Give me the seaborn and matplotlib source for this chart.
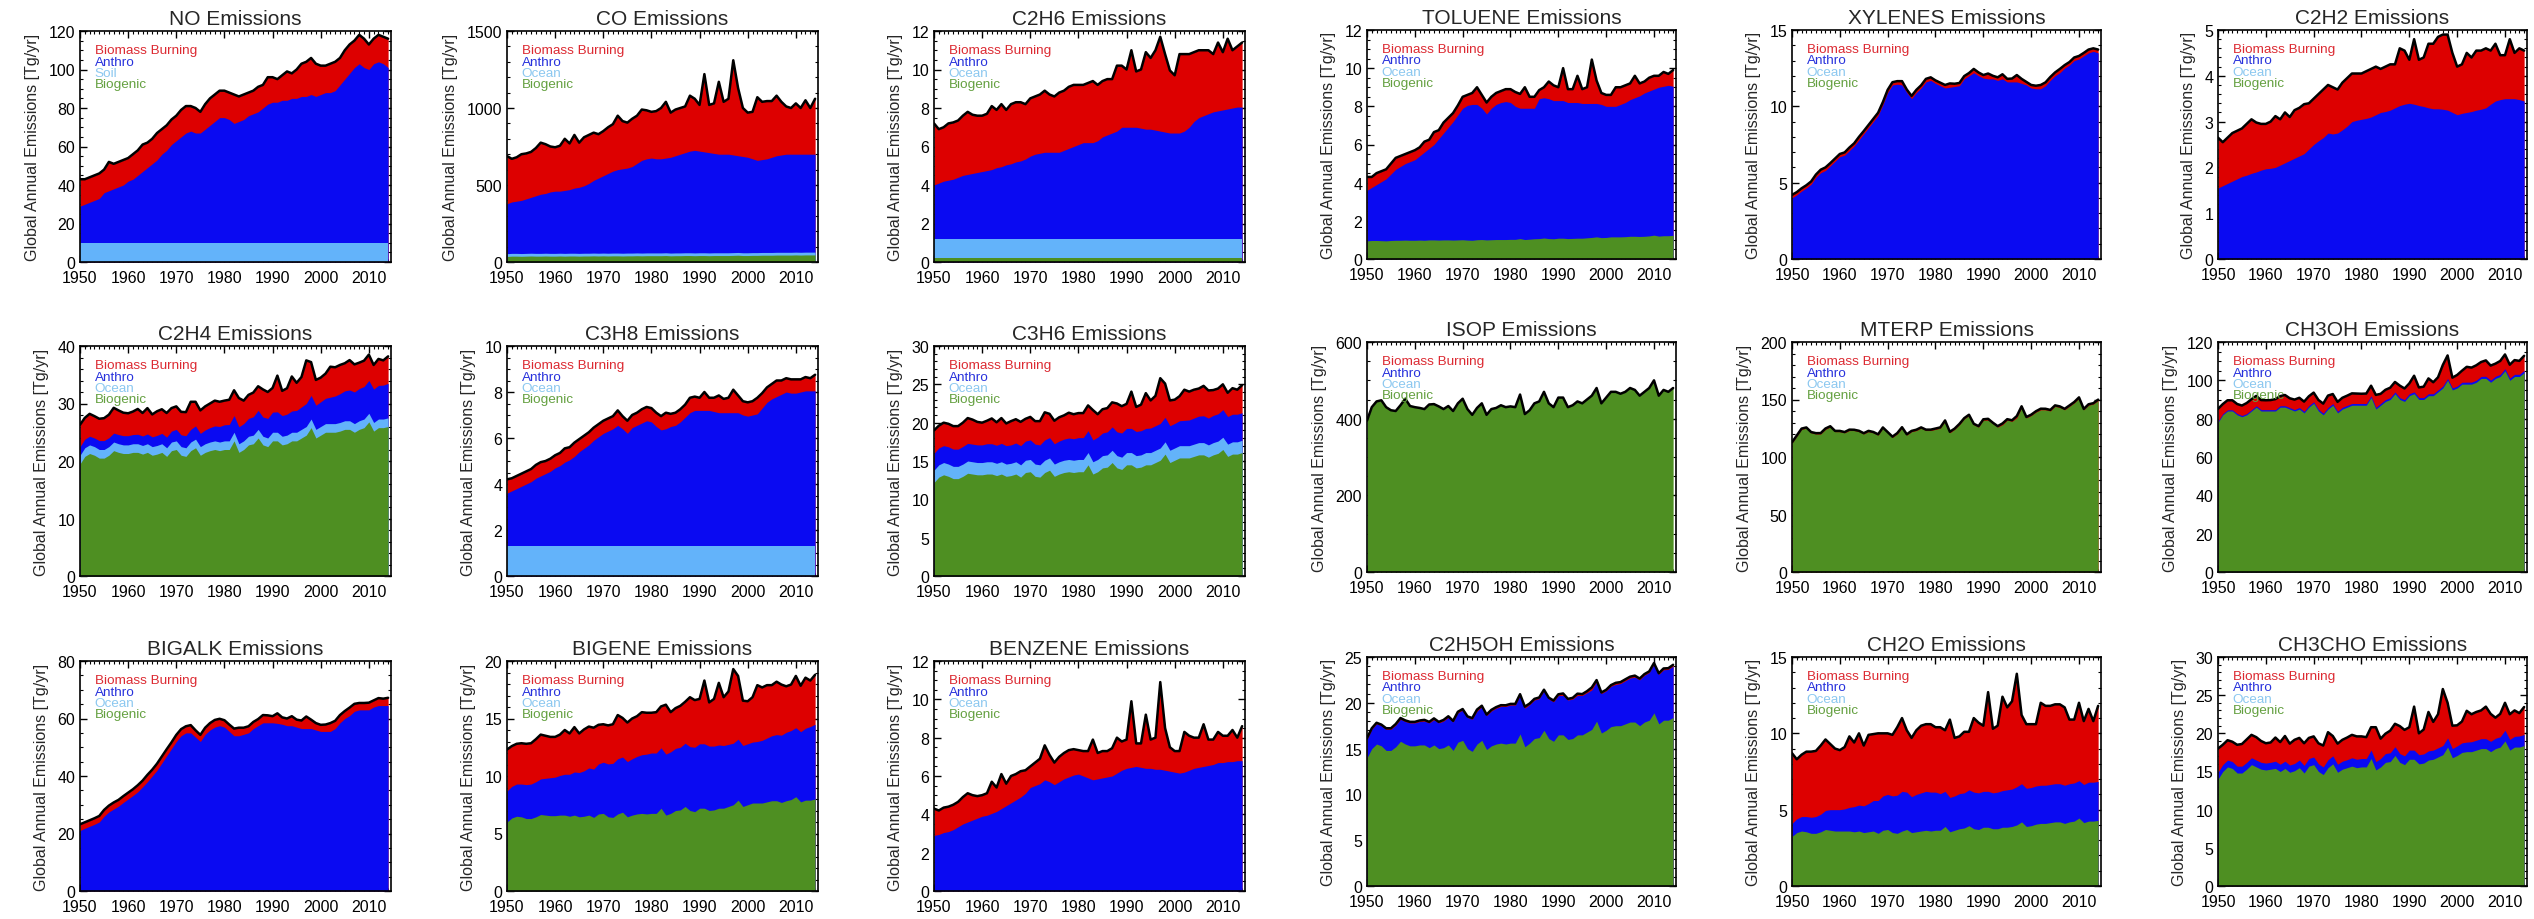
import numpy as np
import matplotlib
matplotlib.use("Agg")
import matplotlib.pyplot as plt
from matplotlib import font_manager as fm
from matplotlib.font_manager import FontProperties
from matplotlib.ticker import MultipleLocator, AutoMinorLocator
import seaborn as sns

years = np.arange(1950, 2015)

# ---------------- NO ----------------
no_soil = [10.0, 10.0, 10.0, 10.0, 10.0, 10.0, 10.0, 10.0, 10.0, 10.0,
           10.0, 10.0, 10.0, 10.0, 10.0, 10.0, 10.0, 10.0, 10.0, 10.0,
           10.0, 10.0, 10.0, 10.0, 10.0, 10.0, 10.0, 10.0, 10.0, 10.0,
           10.0, 10.0, 10.0, 10.0, 10.0, 10.0, 10.0, 10.0, 10.0, 10.0,
           10.0, 10.0, 10.0, 10.0, 10.0, 10.0, 10.0, 10.0, 10.0, 10.0,
           10.0, 10.0, 10.0, 10.0, 10.0, 10.0, 10.0, 10.0, 10.0, 10.0,
           10.0, 10.0, 10.0, 10.0, 10.0]
no_anthro = [19, 20, 21, 22, 23, 26, 27, 28, 29, 30,
             32, 33, 35, 37, 39, 41, 43, 46, 48, 51,
             53, 55, 57, 58, 57, 57, 59, 61, 63, 65,
             65, 64, 62, 63, 64, 66, 67, 68, 70, 72,
             73, 73, 74, 74, 75, 75, 76, 76, 77, 76,
             77, 78, 78, 79, 82, 85, 88, 91, 93, 91,
             90, 93, 94, 93, 91]
no_bb = [14, 13, 13, 13, 13, 12, 15, 13, 13, 13,
         12, 13, 13, 14, 13, 13, 14, 13, 13, 13,
         13, 14, 14, 13, 13, 11, 13, 14, 14, 14,
         14, 14, 15, 13, 13, 12, 12, 13, 12, 14,
         13, 12, 13, 15, 13, 15, 17, 18, 19, 17,
         15, 14, 15, 15, 14, 15, 15, 14, 15, 15,
         13, 13, 14, 14, 15]

# ---------------- CO ----------------
co_bio = [36, 38, 38, 37, 38, 39, 38, 38, 39, 38,
          38, 39, 38, 39, 39, 38, 39, 39, 40, 39,
          40, 39, 40, 40, 39, 40, 40, 41, 40, 41,
          41, 41, 41, 42, 40, 41, 41, 42, 42, 41,
          42, 42, 41, 42, 42, 42, 42, 43, 44, 42,
          42, 43, 43, 44, 44, 44, 45, 45, 45, 45,
          46, 45, 46, 46, 46]
co_ocean = [18, 18, 18, 18, 18, 18, 18, 18, 18, 18,
            18, 18, 18, 18, 18, 18, 18, 18, 18, 18,
            18, 18, 18, 18, 18, 18, 18, 18, 18, 18,
            18, 18, 18, 18, 18, 18, 18, 18, 18, 18,
            18, 18, 18, 18, 18, 18, 18, 18, 18, 18,
            18, 18, 18, 18, 18, 18, 18, 18, 18, 18,
            18, 18, 18, 18, 18]
co_anthro = [324, 334, 339, 345, 354, 363, 374, 384, 388, 399,
             404, 403, 409, 413, 423, 429, 438, 453, 472, 488,
             502, 518, 532, 542, 548, 552, 562, 581, 602, 611,
             616, 611, 611, 615, 622, 631, 641, 650, 660, 666,
             660, 655, 651, 645, 640, 640, 640, 634, 628, 625,
             620, 609, 599, 603, 608, 618, 627, 632, 637, 637,
             636, 637, 636, 636, 636]
co_bb = [310, 280, 285, 300, 295, 295, 310, 335, 320, 295,
         285, 295, 335, 300, 345, 290, 315, 315, 310, 285,
         290, 300, 305, 350, 310, 295, 310, 310, 330, 315,
         300, 310, 330, 365, 290, 300, 300, 300, 360, 335,
         300, 505, 310, 325, 470, 340, 360, 615, 440, 315,
         290, 305, 410, 375, 375, 365, 390, 345, 310, 300,
         330, 300, 350, 300, 360]

# ---------------- C2H6 ----------------
c2h6_bio = [0.2, 0.2, 0.2, 0.2, 0.2, 0.2, 0.2, 0.2, 0.2, 0.2,
            0.2, 0.2, 0.2, 0.2, 0.2, 0.2, 0.2, 0.2, 0.2, 0.2,
            0.2, 0.2, 0.2, 0.2, 0.2, 0.2, 0.2, 0.2, 0.2, 0.2,
            0.2, 0.2, 0.2, 0.2, 0.2, 0.2, 0.2, 0.2, 0.2, 0.2,
            0.2, 0.2, 0.2, 0.2, 0.2, 0.2, 0.2, 0.2, 0.2, 0.2,
            0.2, 0.2, 0.2, 0.2, 0.2, 0.2, 0.2, 0.2, 0.2, 0.2,
            0.2, 0.2, 0.2, 0.2, 0.2]
c2h6_ocean = [1.0, 1.0, 1.0, 1.0, 1.0, 1.0, 1.0, 1.0, 1.0, 1.0,
              1.0, 1.0, 1.0, 1.0, 1.0, 1.0, 1.0, 1.0, 1.0, 1.0,
              1.0, 1.0, 1.0, 1.0, 1.0, 1.0, 1.0, 1.0, 1.0, 1.0,
              1.0, 1.0, 1.0, 1.0, 1.0, 1.0, 1.0, 1.0, 1.0, 1.0,
              1.0, 1.0, 1.0, 1.0, 1.0, 1.0, 1.0, 1.0, 1.0, 1.0,
              1.0, 1.0, 1.0, 1.0, 1.0, 1.0, 1.0, 1.0, 1.0, 1.0,
              1.0, 1.0, 1.0, 1.0, 1.0]
c2h6_anthro = [2.8, 2.9, 3.0, 3.05, 3.1, 3.2, 3.3, 3.35, 3.4, 3.45,
               3.5, 3.55, 3.6, 3.7, 3.75, 3.85, 3.9, 4.0, 4.05, 4.15,
               4.3, 4.4, 4.45, 4.5, 4.5, 4.5, 4.5, 4.6, 4.7, 4.8,
               4.9, 5.0, 5.0, 5.0, 5.1, 5.3, 5.4, 5.5, 5.6, 5.8,
               5.8, 5.8, 5.8, 5.75, 5.7, 5.7, 5.65, 5.6, 5.55, 5.5,
               5.5, 5.5, 5.6, 5.8, 6.1, 6.3, 6.4, 6.5, 6.6, 6.65,
               6.7, 6.75, 6.8, 6.85, 6.85]
c2h6_bb = [3.2, 2.8, 2.8, 2.95, 2.95, 2.95, 3.1, 3.25, 3.05, 2.95,
           2.9, 2.95, 3.3, 3.0, 3.25, 2.85, 3.1, 3.1, 3.05, 2.85,
           3.0, 3.0, 3.05, 3.2, 3.0, 2.9, 3.1, 3.1, 3.2, 3.2,
           3.1, 3.0, 3.1, 3.2, 2.9, 2.9, 2.9, 2.8, 3.4, 3.2,
           3.0, 4.0, 2.9, 3.05, 4.0, 3.7, 4.15, 4.9, 4.05, 3.25,
           3.0, 4.1, 4.0, 3.8, 3.6, 3.5, 3.4, 3.3, 3.0, 3.55,
           3.0, 3.65, 3.0, 3.15, 3.35]

# ---------------- TOLUENE ----------------
toluene_bio = [0.95, 0.97, 0.97, 0.96, 0.95, 0.97, 0.98, 0.98, 0.99, 0.98,
               0.98, 0.99, 0.98, 1.00, 1.00, 0.99, 1.00, 1.00, 0.99, 1.00,
               1.01, 0.99, 0.98, 1.01, 1.02, 1.00, 1.01, 1.02, 1.02, 1.02,
               1.03, 1.03, 1.07, 1.02, 1.04, 1.06, 1.07, 1.10, 1.07, 1.06,
               1.09, 1.09, 1.07, 1.08, 1.09, 1.09, 1.11, 1.13, 1.16, 1.12,
               1.13, 1.16, 1.16, 1.16, 1.17, 1.19, 1.19, 1.18, 1.19, 1.21,
               1.25, 1.20, 1.22, 1.22, 1.24]
toluene_anthro = [2.65, 2.78, 2.93, 3.09, 3.25, 3.48, 3.72, 3.87, 4.01, 4.12,
                  4.22, 4.41, 4.62, 4.80, 5.00, 5.31, 5.60, 5.90, 6.21, 6.55,
                  6.89, 7.06, 7.12, 7.09, 6.88, 6.60, 6.89, 7.08, 7.18, 7.23,
                  7.17, 6.97, 6.83, 6.88, 6.86, 6.84, 7.33, 7.35, 7.33, 7.24,
                  7.21, 7.21, 7.13, 7.12, 7.11, 7.06, 7.04, 7.02, 6.99, 6.98,
                  6.87, 6.84, 6.84, 6.94, 7.03, 7.16, 7.26, 7.37, 7.51, 7.59,
                  7.65, 7.80, 7.83, 7.88, 7.81]
toluene_bb = [0.70, 0.55, 0.60, 0.55, 0.50, 0.55, 0.60, 0.55, 0.50, 0.50,
              0.50, 0.45, 0.55, 0.45, 0.65, 0.45, 0.55, 0.50, 0.45, 0.50,
              0.60, 0.55, 0.60, 0.90, 0.70, 0.60, 0.60, 0.60, 0.60, 0.65,
              0.70, 0.75, 0.75, 1.10, 0.60, 0.60, 0.45, 0.55, 0.90, 0.80,
              0.70, 1.70, 0.70, 0.70, 1.40, 0.75, 0.85, 2.30, 1.20, 0.60,
              0.60, 0.60, 1.00, 0.90, 0.90, 0.85, 1.15, 0.65, 0.60, 0.70,
              0.70, 0.60, 0.75, 0.60, 0.85]

# ---------------- XYLENES ----------------
xylenes_anthro = [4.00, 4.20, 4.45, 4.65, 4.90, 5.35, 5.65, 5.80, 6.10, 6.40,
                  6.70, 6.80, 7.10, 7.40, 7.80, 8.20, 8.60, 9.00, 9.40, 10.10,
                  10.90, 11.40, 11.45, 11.40, 10.90, 10.50, 10.90, 11.20, 11.60, 11.70,
                  11.50, 11.35, 11.20, 11.25, 11.30, 11.35, 11.80, 12.00, 12.20, 12.00,
                  11.85, 11.80, 11.80, 11.70, 11.80, 11.60, 11.60, 11.60, 11.50, 11.40,
                  11.20, 11.15, 11.15, 11.35, 11.70, 12.00, 12.20, 12.50, 12.70, 13.00,
                  13.10, 13.30, 13.50, 13.60, 13.50]
xylenes_bb = [0.20, 0.18, 0.18, 0.18, 0.18, 0.18, 0.20, 0.20, 0.18, 0.18,
              0.18, 0.18, 0.20, 0.18, 0.20, 0.18, 0.18, 0.18, 0.18, 0.18,
              0.18, 0.18, 0.20, 0.25, 0.20, 0.18, 0.18, 0.18, 0.20, 0.20,
              0.20, 0.20, 0.20, 0.25, 0.18, 0.18, 0.18, 0.18, 0.25, 0.22,
              0.20, 0.35, 0.20, 0.20, 0.30, 0.20, 0.22, 0.45, 0.30, 0.20,
              0.20, 0.20, 0.25, 0.22, 0.22, 0.22, 0.25, 0.20, 0.20, 0.20,
              0.20, 0.20, 0.22, 0.20, 0.22]

# ---------------- C2H2 ----------------
c2h2_anthro = [1.55, 1.60, 1.65, 1.70, 1.75, 1.80, 1.83, 1.87, 1.90, 1.94,
               1.97, 1.98, 2.00, 2.05, 2.10, 2.15, 2.20, 2.25, 2.30, 2.40,
               2.50, 2.58, 2.65, 2.75, 2.73, 2.75, 2.82, 2.90, 3.00, 3.03,
               3.05, 3.07, 3.10, 3.15, 3.20, 3.22, 3.25, 3.30, 3.35, 3.38,
               3.40, 3.38, 3.35, 3.33, 3.30, 3.28, 3.28, 3.27, 3.25, 3.20,
               3.15, 3.18, 3.20, 3.22, 3.25, 3.27, 3.30, 3.38, 3.45, 3.48,
               3.50, 3.50, 3.50, 3.48, 3.45]
c2h2_bb = [1.10, 0.95, 1.00, 1.05, 1.05, 1.05, 1.12, 1.18, 1.08, 1.01,
           0.98, 1.02, 1.12, 1.00, 1.10, 0.95, 1.05, 1.05, 1.08, 1.00,
           1.00, 1.02, 1.05, 1.05, 1.02, 0.95, 1.03, 1.05, 1.05, 1.02,
           1.00, 1.03, 1.05, 1.05, 0.95, 0.98, 1.00, 0.95, 1.25, 1.17,
           0.95, 1.42, 1.00, 1.07, 1.40, 1.42, 1.57, 1.63, 1.65, 1.30,
           1.05, 1.07, 1.30, 1.18, 1.30, 1.28, 1.30, 1.17, 1.25, 0.97,
           0.95, 1.30, 1.00, 1.12, 1.10]

# ---------------- C2H4 ----------------
c2h4_bio = [19.5, 20.8, 21.3, 21.0, 20.5, 20.5, 21.0, 21.8, 21.5, 21.3,
            21.3, 21.5, 21.5, 21.2, 21.5, 21.0, 21.2, 21.5, 20.8, 21.8,
            22.0, 21.0, 20.8, 21.8, 22.3, 21.0, 21.5, 21.8, 22.0, 21.8,
            22.0, 22.0, 23.5, 21.5, 22.0, 22.8, 23.0, 24.0, 22.8, 22.5,
            23.5, 23.5, 22.8, 23.0, 23.5, 23.5, 24.0, 24.5, 25.8, 24.0,
            24.5, 25.0, 25.0, 25.0, 25.2, 25.5, 25.5, 25.0, 25.5, 25.8,
            26.8, 25.2, 25.8, 25.8, 26.0]
c2h4_ocean = [1.5, 1.5, 1.5, 1.5, 1.5, 1.5, 1.5, 1.5, 1.5, 1.5,
              1.5, 1.5, 1.5, 1.5, 1.5, 1.5, 1.5, 1.5, 1.5, 1.5,
              1.5, 1.5, 1.5, 1.5, 1.5, 1.5, 1.5, 1.5, 1.5, 1.5,
              1.5, 1.5, 1.5, 1.5, 1.5, 1.5, 1.5, 1.5, 1.5, 1.5,
              1.5, 1.5, 1.5, 1.5, 1.5, 1.5, 1.5, 1.5, 1.5, 1.5,
              1.5, 1.5, 1.5, 1.5, 1.5, 1.5, 1.5, 1.5, 1.5, 1.5,
              1.5, 1.5, 1.5, 1.5, 1.5]
c2h4_anthro = [1.5, 1.5, 1.5, 1.5, 1.55, 1.55, 1.55, 1.55, 1.6, 1.6,
               1.6, 1.6, 1.65, 1.65, 1.7, 1.7, 1.75, 1.8, 1.85, 1.9,
               2.0, 2.05, 2.1, 2.2, 2.3, 2.3, 2.4, 2.5, 2.6, 2.7,
               2.8, 2.85, 2.9, 2.95, 3.0, 3.1, 3.2, 3.3, 3.35, 3.4,
               3.5, 3.55, 3.6, 3.65, 3.7, 3.8, 3.9, 4.0, 4.1, 4.2,
               4.3, 4.4, 4.6, 4.8, 5.0, 5.2, 5.35, 5.5, 5.6, 5.65,
               5.7, 5.8, 5.85, 5.9, 6.0]
c2h4_bb = [3.8, 3.7, 3.9, 3.8, 3.8, 3.9, 4.0, 4.4, 4.2, 4.0,
           3.9, 4.0, 4.4, 4.0, 4.5, 3.9, 4.2, 4.2, 4.2, 4.0,
           4.0, 4.0, 4.1, 4.8, 4.2, 4.0, 4.1, 4.2, 4.4, 4.3,
           4.2, 4.3, 4.4, 5.0, 4.0, 4.1, 4.2, 4.2, 4.8, 4.6,
           4.2, 6.3, 4.3, 4.5, 6.0, 4.8, 5.2, 7.5, 5.8, 4.4,
           4.2, 4.3, 5.3, 5.0, 5.0, 4.8, 5.2, 4.8, 4.5, 4.5,
           4.5, 4.2, 4.6, 4.3, 4.7]

# ---------------- C3H8 ----------------
c3h8_ocean = [1.3, 1.3, 1.3, 1.3, 1.3, 1.3, 1.3, 1.3, 1.3, 1.3,
              1.3, 1.3, 1.3, 1.3, 1.3, 1.3, 1.3, 1.3, 1.3, 1.3,
              1.3, 1.3, 1.3, 1.3, 1.3, 1.3, 1.3, 1.3, 1.3, 1.3,
              1.3, 1.3, 1.3, 1.3, 1.3, 1.3, 1.3, 1.3, 1.3, 1.3,
              1.3, 1.3, 1.3, 1.3, 1.3, 1.3, 1.3, 1.3, 1.3, 1.3,
              1.3, 1.3, 1.3, 1.3, 1.3, 1.3, 1.3, 1.3, 1.3, 1.3,
              1.3, 1.3, 1.3, 1.3, 1.3]
c3h8_anthro = [2.3, 2.4, 2.5, 2.6, 2.7, 2.8, 2.95, 3.05, 3.15, 3.25,
               3.4, 3.5, 3.65, 3.75, 3.9, 4.1, 4.25, 4.4, 4.6, 4.75,
               4.9, 5.0, 5.1, 5.25, 5.1, 4.9, 5.15, 5.25, 5.35, 5.45,
               5.4, 5.2, 5.05, 5.1, 5.2, 5.25, 5.4, 5.6, 5.8, 5.9,
               5.9, 5.9, 5.9, 5.85, 5.8, 5.8, 5.8, 5.8, 5.8, 5.7,
               5.65, 5.7, 5.75, 6.0, 6.25, 6.4, 6.5, 6.6, 6.7, 6.65,
               6.65, 6.7, 6.75, 6.75, 6.75]
c3h8_bb = [0.6, 0.55, 0.55, 0.55, 0.55, 0.55, 0.58, 0.6, 0.55, 0.55,
           0.55, 0.55, 0.6, 0.55, 0.6, 0.55, 0.55, 0.55, 0.55, 0.55,
           0.55, 0.55, 0.55, 0.65, 0.55, 0.55, 0.55, 0.55, 0.6, 0.6,
           0.6, 0.6, 0.6, 0.7, 0.55, 0.55, 0.55, 0.55, 0.65, 0.6,
           0.55, 0.8, 0.55, 0.6, 0.75, 0.6, 0.65, 1.0, 0.75, 0.6,
           0.6, 0.6, 0.7, 0.65, 0.65, 0.65, 0.7, 0.6, 0.6, 0.6,
           0.6, 0.55, 0.6, 0.55, 0.7]

# ---------------- C3H6 ----------------
c3h6_bio = [12.2, 12.9, 13.2, 13.0, 12.7, 12.7, 13.0, 13.4, 13.3, 13.2,
            13.2, 13.3, 13.3, 13.1, 13.3, 13.0, 13.1, 13.3, 12.9, 13.5,
            13.6, 13.0, 12.9, 13.5, 13.8, 13.0, 13.3, 13.5, 13.6, 13.5,
            13.6, 13.6, 14.5, 13.3, 13.6, 14.1, 14.2, 14.8, 14.1, 13.9,
            14.5, 14.5, 14.1, 14.2, 14.5, 14.5, 14.8, 15.1, 15.9, 14.8,
            15.1, 15.4, 15.4, 15.4, 15.6, 15.8, 15.8, 15.5, 15.8, 16.0,
            16.5, 15.6, 15.9, 15.9, 16.1]
c3h6_ocean = [1.6, 1.6, 1.6, 1.6, 1.6, 1.6, 1.6, 1.6, 1.6, 1.6,
              1.6, 1.6, 1.6, 1.6, 1.6, 1.6, 1.6, 1.6, 1.6, 1.6,
              1.6, 1.6, 1.6, 1.6, 1.6, 1.6, 1.6, 1.6, 1.6, 1.6,
              1.6, 1.6, 1.6, 1.6, 1.6, 1.6, 1.6, 1.6, 1.6, 1.6,
              1.6, 1.6, 1.6, 1.6, 1.6, 1.6, 1.6, 1.6, 1.6, 1.6,
              1.6, 1.6, 1.6, 1.6, 1.6, 1.6, 1.6, 1.6, 1.6, 1.6,
              1.6, 1.6, 1.6, 1.6, 1.6]
c3h6_anthro = [2.2, 2.2, 2.2, 2.25, 2.25, 2.25, 2.3, 2.3, 2.3, 2.3,
               2.3, 2.35, 2.35, 2.35, 2.4, 2.4, 2.4, 2.45, 2.5, 2.5,
               2.55, 2.6, 2.6, 2.65, 2.65, 2.65, 2.7, 2.75, 2.8, 2.8,
               2.85, 2.85, 2.85, 2.85, 2.9, 2.95, 3.0, 3.05, 3.1, 3.15,
               3.15, 3.15, 3.15, 3.15, 3.15, 3.2, 3.2, 3.2, 3.2, 3.2,
               3.2, 3.25, 3.3, 3.35, 3.4, 3.45, 3.5, 3.5, 3.55, 3.55,
               3.6, 3.6, 3.6, 3.6, 3.6]
c3h6_bb = [3.0, 2.9, 3.0, 3.0, 3.0, 3.0, 3.1, 3.3, 3.2, 3.0,
           2.9, 3.0, 3.3, 3.0, 3.3, 2.9, 3.1, 3.1, 3.1, 2.9,
           3.0, 3.0, 3.1, 3.6, 3.1, 3.0, 3.1, 3.1, 3.3, 3.2,
           3.2, 3.2, 3.3, 3.9, 3.0, 3.1, 3.1, 3.2, 3.7, 3.5,
           3.2, 4.8, 3.2, 3.4, 4.6, 3.6, 3.9, 5.9, 4.4, 3.3,
           3.1, 3.2, 4.0, 3.7, 3.7, 3.6, 3.9, 3.6, 3.3, 3.3,
           3.3, 3.1, 3.4, 3.2, 3.6]

# ---------------- ISOP ----------------
isop_bio = [395, 430, 445, 448, 430, 422, 420, 435, 452, 433,
            430, 428, 425, 437, 438, 432, 425, 433, 420, 440,
            452, 425, 410, 428, 440, 410, 425, 428, 435, 430,
            432, 430, 463, 412, 422, 440, 445, 470, 440, 430,
            455, 455, 430, 435, 445, 440, 450, 460, 480, 440,
            455, 470, 470, 465, 470, 480, 475, 460, 470, 480,
            500, 460, 475, 470, 480]

# ---------------- MTERP ----------------
mterp_bio = [112, 118, 124, 125, 121, 120, 120, 124, 126, 122,
             122, 121, 123, 123, 122, 120, 122, 121, 119, 125,
             121, 117, 120, 125, 119, 122, 123, 125, 123, 123,
             124, 125, 131, 121, 124, 128, 133, 136, 128, 126,
             132, 132, 129, 126, 128, 132, 131, 134, 143, 134,
             136, 139, 141, 141, 140, 144, 143, 141, 144, 147,
             151, 141, 145, 146, 149]
mterp_bb = [0.8, 0.7, 0.7, 0.7, 0.7, 0.75, 0.8, 0.8, 0.75, 0.7,
            0.7, 0.7, 0.8, 0.7, 0.8, 0.7, 0.75, 0.75, 0.75, 0.7,
            0.7, 0.7, 0.75, 0.9, 0.75, 0.7, 0.75, 0.75, 0.8, 0.8,
            0.75, 0.75, 0.8, 0.95, 0.7, 0.75, 0.75, 0.75, 0.9, 0.85,
            0.8, 1.2, 0.8, 0.85, 1.15, 0.9, 0.95, 1.6, 1.1, 0.8,
            0.8, 0.8, 1.0, 0.95, 0.95, 0.9, 1.0, 0.9, 0.8, 0.8,
            0.85, 0.8, 0.85, 0.8, 0.9]

# ---------------- CH3OH ----------------
ch3oh_bio = [78, 82, 84, 84, 82, 81, 82, 84, 86, 84,
             84, 84, 84, 86, 86, 85, 84, 85, 83, 86,
             88, 84, 82, 85, 87, 83, 85, 86, 87, 87,
             87, 87, 91, 85, 87, 89, 90, 93, 90, 89,
             92, 93, 90, 90, 92, 92, 94, 96, 100, 95,
             96, 98, 98, 98, 99, 101, 101, 99, 101, 102,
             105, 100, 102, 102, 104]
ch3oh_anthro = [0.6, 0.6, 0.6, 0.6, 0.65, 0.65, 0.65, 0.65, 0.7, 0.7,
                0.7, 0.7, 0.7, 0.75, 0.75, 0.75, 0.75, 0.8, 0.8, 0.8,
                0.8, 0.85, 0.85, 0.85, 0.85, 0.85, 0.9, 0.9, 0.9, 0.9,
                0.9, 0.9, 0.9, 0.9, 0.95, 0.95, 0.95, 0.95, 0.95, 0.95,
                1.0, 1.0, 1.0, 1.0, 1.0, 1.0, 1.0, 1.0, 1.0, 1.0,
                1.0, 1.0, 1.05, 1.05, 1.05, 1.05, 1.1, 1.1, 1.1, 1.1,
                1.1, 1.15, 1.15, 1.15, 1.2]
ch3oh_bb = [6.5, 5.0, 5.0, 5.0, 5.0, 5.2, 5.5, 5.5, 5.2, 5.0,
            4.9, 5.0, 5.5, 5.0, 5.6, 4.9, 5.2, 5.1, 5.1, 4.9,
            4.8, 4.9, 5.0, 6.2, 5.0, 4.9, 5.0, 5.1, 5.3, 5.2,
            5.1, 5.2, 5.3, 6.5, 5.0, 5.1, 5.2, 5.2, 6.3, 5.8,
            5.4, 8.4, 5.3, 5.7, 8.0, 6.0, 6.6, 11.0, 12.0, 5.4,
            5.8, 6.0, 8.0, 7.6, 7.8, 7.5, 8.3, 7.6, 6.6, 7.0,
            7.4, 7.0, 7.4, 7.0, 7.6]

# ---------------- BIGALK ----------------
bigalk_anthro = [21.0, 21.8, 22.5, 23.2, 24.0, 26.0, 27.5, 28.5, 29.5, 30.8,
                 32.0, 33.2, 34.5, 36.2, 38.0, 40.0, 42.0, 44.5, 47.0, 49.5,
                 52.0, 54.0, 55.0, 55.0, 53.5, 52.0, 54.5, 56.0, 57.0, 57.5,
                 57.0, 55.5, 54.0, 54.0, 54.5, 55.0, 56.5, 57.5, 58.5, 58.5,
                 58.5, 58.3, 58.0, 57.5, 57.5, 57.0, 56.5, 56.5, 56.5, 56.0,
                 55.5, 55.5, 55.5, 56.5, 58.5, 60.0, 61.0, 62.5, 63.0, 63.0,
                 63.0, 64.0, 64.5, 64.5, 64.5]
bigalk_bb = [2.2, 2.1, 2.1, 2.1, 2.1, 2.2, 2.2, 2.3, 2.2, 2.2,
             2.2, 2.2, 2.3, 2.2, 2.4, 2.2, 2.3, 2.3, 2.3, 2.2,
             2.3, 2.3, 2.3, 2.7, 2.4, 2.3, 2.3, 2.4, 2.5, 2.4,
             2.4, 2.4, 2.5, 2.8, 2.3, 2.3, 2.3, 2.3, 2.7, 2.6,
             2.3, 3.5, 2.4, 2.5, 3.3, 2.6, 2.8, 4.2, 3.1, 2.4,
             2.3, 2.4, 2.9, 2.7, 2.7, 2.6, 2.8, 2.6, 2.4, 2.4,
             2.5, 2.3, 2.6, 2.4, 2.7]

# ---------------- BIGENE ----------------
bigene_bio = [6.0, 6.35, 6.5, 6.45, 6.3, 6.3, 6.45, 6.65, 6.6, 6.55,
              6.55, 6.6, 6.6, 6.5, 6.6, 6.45, 6.5, 6.6, 6.4, 6.7,
              6.75, 6.45, 6.4, 6.7, 6.85, 6.45, 6.6, 6.7, 6.75, 6.7,
              6.75, 6.75, 7.2, 6.6, 6.75, 7.0, 7.05, 7.35, 7.0, 6.9,
              7.2, 7.2, 7.0, 7.05, 7.2, 7.2, 7.35, 7.5, 7.9, 7.35,
              7.5, 7.65, 7.65, 7.65, 7.75, 7.85, 7.85, 7.7, 7.85, 7.95,
              8.2, 7.75, 7.9, 7.9, 8.0]
bigene_anthro = [2.7, 2.75, 2.8, 2.85, 2.95, 3.0, 3.05, 3.1, 3.2, 3.3,
                 3.35, 3.45, 3.55, 3.65, 3.75, 3.85, 3.95, 4.1, 4.2, 4.35,
                 4.45, 4.6, 4.7, 4.8, 4.8, 4.8, 4.9, 5.0, 5.1, 5.2,
                 5.25, 5.25, 5.25, 5.3, 5.35, 5.4, 5.45, 5.5, 5.55, 5.6,
                 5.6, 5.6, 5.6, 5.55, 5.5, 5.45, 5.4, 5.35, 5.3, 5.3,
                 5.3, 5.3, 5.35, 5.45, 5.55, 5.65, 5.75, 5.85, 5.95, 6.0,
                 6.0, 6.1, 6.25, 6.4, 6.5]
bigene_bb = [3.6, 3.5, 3.5, 3.55, 3.55, 3.55, 3.7, 3.85, 3.7, 3.55,
             3.5, 3.55, 3.85, 3.55, 3.9, 3.4, 3.6, 3.6, 3.6, 3.4,
             3.3, 3.35, 3.4, 3.8, 3.4, 3.4, 3.5, 3.5, 3.7, 3.6,
             3.5, 3.55, 3.6, 4.3, 3.45, 3.5, 3.6, 3.6, 4.3, 4.1,
             3.9, 5.5, 3.8, 4.1, 5.4, 4.2, 4.6, 6.45, 5.5, 3.9,
             3.7, 3.9, 4.9, 4.6, 4.6, 4.4, 4.6, 4.4, 4.0, 4.0,
             4.5, 4.0, 4.4, 4.0, 4.3]

# ---------------- BENZENE ----------------
benzene_anthro = [2.9, 2.95, 3.05, 3.1, 3.2, 3.35, 3.5, 3.6, 3.7, 3.8,
                  3.9, 3.95, 4.05, 4.15, 4.3, 4.45, 4.6, 4.75, 4.9, 5.1,
                  5.4, 5.5, 5.6, 5.8, 5.7, 5.55, 5.7, 5.85, 5.95, 6.05,
                  6.1, 6.0, 5.9, 5.8, 5.85, 5.9, 5.95, 6.0, 6.15, 6.3,
                  6.4, 6.45, 6.5, 6.45, 6.4, 6.4, 6.35, 6.35, 6.3, 6.25,
                  6.2, 6.15, 6.2, 6.3, 6.4, 6.45, 6.5, 6.55, 6.6, 6.7,
                  6.7, 6.75, 6.75, 6.8, 6.8]
benzene_bb = [1.4, 1.25, 1.3, 1.3, 1.3, 1.3, 1.4, 1.5, 1.3, 1.15,
              1.1, 1.15, 1.65, 1.25, 1.8, 1.15, 1.4, 1.35, 1.35, 1.2,
              1.1, 1.2, 1.3, 1.8, 1.4, 1.15, 1.3, 1.35, 1.4, 1.35,
              1.25, 1.3, 1.4, 2.1, 1.35, 1.4, 1.35, 1.45, 1.85, 1.5,
              1.5, 3.45, 1.2, 1.25, 2.8, 1.5, 1.65, 4.55, 2.2, 1.25,
              1.1, 1.15, 2.1, 1.8, 1.6, 1.55, 2.2, 1.35, 1.3, 1.6,
              1.4, 1.35, 1.65, 1.2, 1.8]

# ---------------- C2H5OH ----------------
c2h5oh_bio = [14.0, 15.0, 15.5, 15.3, 14.8, 14.8, 15.2, 15.8, 15.5, 15.3,
              15.3, 15.4, 15.4, 15.1, 15.4, 15.0, 15.1, 15.4, 14.8, 15.7,
              15.9, 15.0, 14.7, 15.5, 15.9, 14.9, 15.3, 15.5, 15.6, 15.5,
              15.6, 15.6, 16.6, 15.2, 15.6, 16.1, 16.2, 17.0, 16.1, 15.8,
              16.5, 16.5, 16.0, 16.1, 16.5, 16.5, 16.8, 17.1, 18.0, 16.7,
              17.0, 17.4, 17.5, 17.5, 17.7, 17.9, 17.9, 17.5, 17.9, 18.1,
              18.9, 17.7, 18.1, 18.1, 18.4]
c2h5oh_anthro = [2.0, 2.1, 2.2, 2.2, 2.3, 2.3, 2.35, 2.4, 2.45, 2.5,
                 2.5, 2.55, 2.6, 2.7, 2.75, 2.8, 2.9, 3.0, 3.1, 3.2,
                 3.3, 3.4, 3.5, 3.6, 3.65, 3.7, 3.8, 3.9, 4.0, 4.1,
                 4.15, 4.15, 4.2, 4.2, 4.2, 4.2, 4.25, 4.3, 4.3, 4.3,
                 4.3, 4.3, 4.3, 4.3, 4.3, 4.3, 4.3, 4.3, 4.3, 4.3,
                 4.3, 4.4, 4.5, 4.6, 4.7, 4.8, 4.9, 5.0, 5.1, 5.2,
                 5.3, 5.4, 5.5, 5.55, 5.6]
c2h5oh_bb = [0.15, 0.12, 0.12, 0.12, 0.12, 0.12, 0.13, 0.14, 0.13, 0.12,
             0.12, 0.12, 0.14, 0.12, 0.15, 0.12, 0.13, 0.13, 0.13, 0.12,
             0.12, 0.12, 0.13, 0.16, 0.13, 0.12, 0.13, 0.13, 0.14, 0.13,
             0.13, 0.13, 0.14, 0.18, 0.12, 0.13, 0.13, 0.13, 0.16, 0.15,
             0.13, 0.22, 0.13, 0.14, 0.20, 0.15, 0.17, 0.28, 0.18, 0.13,
             0.12, 0.13, 0.18, 0.16, 0.16, 0.15, 0.17, 0.15, 0.13, 0.13,
             0.14, 0.13, 0.15, 0.13, 0.15]

# ---------------- CH2O ----------------
ch2o_bio = [3.25, 3.5, 3.6, 3.55, 3.45, 3.45, 3.55, 3.7, 3.65, 3.6,
            3.6, 3.6, 3.6, 3.55, 3.6, 3.5, 3.55, 3.6, 3.45, 3.65,
            3.7, 3.5, 3.45, 3.6, 3.7, 3.5, 3.55, 3.6, 3.65, 3.6,
            3.65, 3.65, 3.9, 3.55, 3.65, 3.75, 3.8, 3.95, 3.75, 3.7,
            3.85, 3.85, 3.75, 3.75, 3.85, 3.85, 3.9, 4.0, 4.2, 3.9,
            3.95, 4.05, 4.1, 4.1, 4.15, 4.2, 4.2, 4.1, 4.2, 4.25,
            4.45, 4.15, 4.25, 4.25, 4.3]
ch2o_anthro = [0.85, 0.9, 0.95, 1.0, 1.05, 1.1, 1.15, 1.25, 1.35, 1.4,
               1.4, 1.45, 1.55, 1.65, 1.7, 1.75, 1.85, 2.0, 2.15, 2.25,
               2.3, 2.4, 2.5, 2.6, 2.45, 2.35, 2.45, 2.5, 2.55, 2.55,
               2.5, 2.4, 2.3, 2.25, 2.25, 2.3, 2.3, 2.35, 2.4, 2.4,
               2.35, 2.35, 2.35, 2.4, 2.4, 2.45, 2.45, 2.5, 2.5, 2.5,
               2.5, 2.5, 2.5, 2.5, 2.5, 2.5, 2.5, 2.5, 2.5, 2.5,
               2.45, 2.5, 2.55, 2.55, 2.55]
ch2o_bb = [4.6, 3.9, 4.05, 4.25, 4.3, 4.3, 4.5, 4.65, 4.3, 4.0,
           3.9, 4.05, 4.65, 4.2, 4.7, 3.95, 4.5, 4.35, 4.4, 4.1,
           4.0, 4.0, 4.45, 4.8, 4.05, 3.85, 4.2, 4.4, 4.4, 4.45,
           4.25, 4.35, 4.0, 5.1, 3.8, 3.75, 4.0, 3.8, 4.85, 4.6,
           4.3, 6.5, 4.2, 4.35, 6.15, 5.4, 5.75, 7.4, 4.5, 4.2,
           4.15, 4.05, 5.4, 5.2, 5.15, 5.2, 5.2, 5.1, 4.2, 4.15,
           5.1, 4.15, 4.8, 4.0, 4.95]

# ---------------- CH3CHO ----------------
ch3cho_bio = [14.0, 15.0, 15.6, 15.4, 14.8, 14.8, 15.3, 15.9, 15.6, 15.3,
              15.2, 15.3, 15.4, 15.0, 15.4, 14.9, 15.1, 15.5, 14.8, 15.7,
              15.9, 15.0, 14.6, 15.5, 16.0, 14.9, 15.3, 15.5, 15.7, 15.5,
              15.6, 15.6, 16.7, 15.2, 15.6, 16.2, 16.3, 17.1, 16.2, 15.9,
              16.6, 16.6, 16.0, 16.1, 16.5, 16.6, 16.9, 17.2, 18.2, 16.8,
              17.1, 17.5, 17.6, 17.6, 17.8, 18.0, 18.0, 17.6, 18.0, 18.2,
              19.0, 17.8, 18.2, 18.2, 18.4]
ch3cho_anthro = [0.9, 0.9, 0.9, 0.9, 0.9, 0.9, 0.9, 0.9, 0.9, 0.9,
                 0.9, 0.9, 0.95, 0.95, 0.95, 0.95, 0.95, 1.0, 1.0, 1.0,
                 1.0, 1.0, 1.0, 1.05, 1.05, 1.05, 1.05, 1.05, 1.1, 1.1,
                 1.1, 1.1, 1.1, 1.1, 1.1, 1.15, 1.15, 1.15, 1.15, 1.15,
                 1.2, 1.2, 1.2, 1.2, 1.2, 1.2, 1.2, 1.2, 1.2, 1.2,
                 1.25, 1.25, 1.25, 1.3, 1.3, 1.3, 1.3, 1.35, 1.35, 1.35,
                 1.4, 1.4, 1.4, 1.45, 1.45]
ch3cho_bb = [3.1, 2.6, 2.6, 2.6, 2.8, 2.9, 3.0, 3.0, 3.0, 2.8,
             2.6, 2.6, 3.1, 2.9, 3.3, 2.8, 3.1, 2.9, 2.9, 2.7,
             2.7, 2.7, 2.8, 3.6, 2.6, 2.7, 2.8, 2.9, 3.0, 3.0,
             2.9, 2.8, 3.0, 4.5, 2.6, 2.6, 2.9, 3.0, 3.6, 3.4,
             3.0, 5.7, 2.8, 3.2, 5.1, 3.7, 4.4, 7.4, 4.6, 3.0,
             2.7, 2.8, 4.1, 3.6, 3.7, 3.7, 4.2, 3.6, 2.7, 3.0,
             3.6, 3.3, 3.4, 3.0, 3.6]

# species, y max, major step, layers, 4th legend label
panels = [
    ("NO", 120, 20, {"ocean": no_soil, "anthro": no_anthro, "bb": no_bb}, "Soil"),
    ("CO", 1500, 500, {"bio": co_bio, "ocean": co_ocean, "anthro": co_anthro, "bb": co_bb}, "Ocean"),
    ("C2H6", 12, 2, {"bio": c2h6_bio, "ocean": c2h6_ocean, "anthro": c2h6_anthro, "bb": c2h6_bb}, "Ocean"),
    ("TOLUENE", 12, 2, {"bio": toluene_bio, "anthro": toluene_anthro, "bb": toluene_bb}, "Ocean"),
    ("XYLENES", 15, 5, {"anthro": xylenes_anthro, "bb": xylenes_bb}, "Ocean"),
    ("C2H2", 5, 1, {"anthro": c2h2_anthro, "bb": c2h2_bb}, "Ocean"),
    ("C2H4", 40, 10, {"bio": c2h4_bio, "ocean": c2h4_ocean, "anthro": c2h4_anthro, "bb": c2h4_bb}, "Ocean"),
    ("C3H8", 10, 2, {"ocean": c3h8_ocean, "anthro": c3h8_anthro, "bb": c3h8_bb}, "Ocean"),
    ("C3H6", 30, 5, {"bio": c3h6_bio, "ocean": c3h6_ocean, "anthro": c3h6_anthro, "bb": c3h6_bb}, "Ocean"),
    ("ISOP", 600, 200, {"bio": isop_bio}, "Ocean"),
    ("MTERP", 200, 50, {"bio": mterp_bio, "bb": mterp_bb}, "Ocean"),
    ("CH3OH", 120, 20, {"bio": ch3oh_bio, "anthro": ch3oh_anthro, "bb": ch3oh_bb}, "Ocean"),
    ("BIGALK", 80, 20, {"anthro": bigalk_anthro, "bb": bigalk_bb}, "Ocean"),
    ("BIGENE", 20, 5, {"bio": bigene_bio, "anthro": bigene_anthro, "bb": bigene_bb}, "Ocean"),
    ("BENZENE", 12, 2, {"anthro": benzene_anthro, "bb": benzene_bb}, "Ocean"),
    ("C2H5OH", 25, 5, {"bio": c2h5oh_bio, "anthro": c2h5oh_anthro, "bb": c2h5oh_bb}, "Ocean"),
    ("CH2O", 15, 5, {"bio": ch2o_bio, "anthro": ch2o_anthro, "bb": ch2o_bb}, "Ocean"),
    ("CH3CHO", 30, 5, {"bio": ch3cho_bio, "anthro": ch3cho_anthro, "bb": ch3cho_bb}, "Ocean"),
]

for name, _, _, layers, _ in panels:
    for k, v in layers.items():
        assert len(v) == len(years), (name, k, len(v))

RED = "#DD0000"
BLUE = "#0A0AF2"
LBLUE = "#63B3FA"
GREEN = "#4E8F22"
TXT = {"bb": "#DC2A32", "anthro": "#2832DC", "ocean": "#8CC8F0", "bio": "#64A040"}

sns.set_style("ticks")
plt.rcParams["font.family"] = ["Liberation Sans", "DejaVu Sans"]

# pick the regular-width Liberation Sans file explicitly (never the Narrow cut)
reg_path = None
for f in fm.fontManager.ttflist:
    if (f.name == "Liberation Sans" and "narrow" not in f.fname.lower()
            and f.style == "normal" and f.weight in (400, "normal", "regular")):
        reg_path = f.fname
        break


def fprop(size):
    if reg_path:
        return FontProperties(fname=reg_path, size=size)
    return FontProperties(family=["Liberation Sans", "DejaVu Sans"], size=size)


W, H = 2534, 920
fig = plt.figure(figsize=(W / 100, H / 100), dpi=100)

col_x = [80, 507, 934, 1367, 1792, 2218]
left_rows = [(32, 263), (347, 577), (662, 892)]
right_rows = [(31, 260), (343, 573), (658, 887)]

order = [("bio", GREEN), ("ocean", LBLUE), ("anthro", BLUE), ("bb", RED)]
axes = []

for i, (name, ymax, ystep, layers, lab4) in enumerate(panels):
    r, c = divmod(i, 6)
    if c < 3:
        t, b = left_rows[r]
        w = 311
    else:
        t, b = right_rows[r]
        w = 309
    ax = fig.add_axes([col_x[c] / W, 1 - b / H, w / W, (b - t) / H])
    axes.append(ax)

    base = np.zeros(len(years))
    tops = []
    for key, color in order:
        if key in layers:
            base = base + np.asarray(layers[key], dtype=float)
            tops.append((base.copy(), color))
    for top, color in reversed(tops):
        ax.fill_between(years, 0, top, color=color, linewidth=0, zorder=1)
    sns.lineplot(x=years, y=base, color="black", linewidth=1.8, ax=ax,
                 legend=False, zorder=3)

    ax.set_xlim(1950, 2014.6)
    ax.set_ylim(0, ymax)
    ax.xaxis.set_major_locator(MultipleLocator(10))
    ax.xaxis.set_minor_locator(MultipleLocator(1))
    ax.yaxis.set_major_locator(MultipleLocator(ystep))
    ax.yaxis.set_minor_locator(AutoMinorLocator())
    ax.tick_params(which="both", direction="in", top=True, right=True,
                   colors="black", labelsize=11.5)
    ax.tick_params(which="major", length=5, width=1.0)
    ax.tick_params(which="minor", length=2.5, width=0.8)
    ax.tick_params(axis="x", pad=6)
    ax.tick_params(axis="y", pad=3.5)
    for s in ax.spines.values():
        s.set_color("black")
        s.set_linewidth(1.2)
        s.set_zorder(5)

    ax.set_title(f"{name} Emissions", fontproperties=fprop(15), pad=5)
    ax.set_ylabel("Global Annual Emissions [Tg/yr]", fontproperties=fprop(11.5),
                  labelpad=6)
    ax.set_xlabel("")

    leg = [("Biomass Burning", TXT["bb"]), ("Anthro", TXT["anthro"]),
           (lab4, TXT["ocean"]), ("Biogenic", TXT["bio"])]
    for j, (txt, col) in enumerate(leg):
        ax.text(0.047, 0.916 - j * 0.049, txt, transform=ax.transAxes,
                color=col, fontproperties=fprop(9.7), ha="left", va="center",
                zorder=6)

fig.canvas.draw()
for ax in axes:
    for lab in ax.get_xticklabels() + ax.get_yticklabels():
        lab.set_fontproperties(fprop(11.5))

fig.savefig("out.png", dpi=100)
